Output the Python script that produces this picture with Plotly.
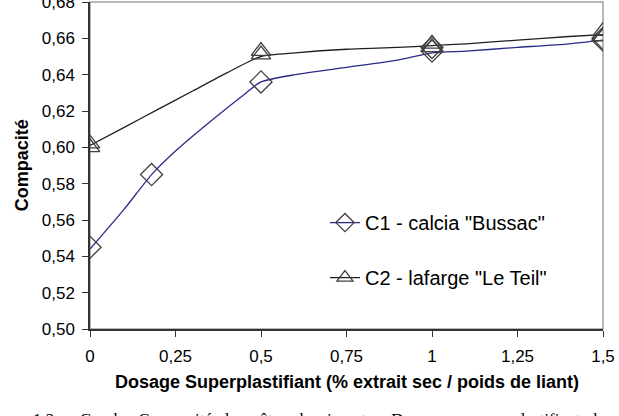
import plotly.graph_objects as go

# Smoothed curves
c1_line_x = [0, 0.1, 0.18, 0.25, 0.35, 0.45, 0.5, 0.6, 0.75, 0.9, 1.0, 1.1, 1.25, 1.4, 1.5]
c1_line_y = [0.544, 0.566, 0.585, 0.598, 0.614, 0.629, 0.636, 0.640, 0.644, 0.648, 0.652, 0.653, 0.655, 0.657, 0.659]
c2_line_x = [0, 0.1, 0.2, 0.3, 0.4, 0.5, 0.6, 0.75, 0.9, 1.0, 1.1, 1.25, 1.4, 1.5]
c2_line_y = [0.601, 0.611, 0.621, 0.631, 0.641, 0.650, 0.652, 0.654, 0.655, 0.656, 0.657, 0.659, 0.661, 0.662]

# Measured points
c1_pts_x = [0, 0.18, 0.5, 1, 1, 1.5, 1.5]
c1_pts_y = [0.545, 0.585, 0.636, 0.653, 0.655, 0.659, 0.660]
c2_pts_x = [0, 0, 0.5, 0.5, 1, 1, 1.5, 1.5]
c2_pts_y = [0.600, 0.602, 0.651, 0.653, 0.655, 0.657, 0.661, 0.664]

names = ['C1 - calcia "Bussac"', 'C2 - lafarge "Le Teil"']
x_ticks = [0, 0.25, 0.5, 0.75, 1, 1.25, 1.5]
x_tick_text = ["0", "0,25", "0,5", "0,75", "1", "1,25", "1,5"]
y_ticks = [0.50, 0.52, 0.54, 0.56, 0.58, 0.60, 0.62, 0.64, 0.66, 0.68]
y_tick_text = ["0,50", "0,52", "0,54", "0,56", "0,58", "0,60", "0,62", "0,64", "0,66", "0,68"]
x_title = "Dosage Superplastifiant (% extrait sec / poids de liant)"
y_title = "Compacité"
caption = "1.2  –  Courbe  Compacité  des  pâtes  de  ciment  –  Dosage  en  superplastifiant  de"

C1_COL = "#2a2a8a"
C2_COL = "#202020"
MK_COL = "#404040"
FONT = "Liberation Sans, Arial, sans-serif"

fig = go.Figure()
fig.add_trace(go.Scatter(x=c1_line_x, y=c1_line_y, mode="lines", line=dict(color=C1_COL, width=1.3, shape="spline", smoothing=0.6),
                         showlegend=False, hoverinfo="skip"))
fig.add_trace(go.Scatter(x=c2_line_x, y=c2_line_y, mode="lines", line=dict(color=C2_COL, width=1.3, shape="spline", smoothing=0.6),
                         showlegend=False, hoverinfo="skip"))
fig.add_trace(go.Scatter(x=c1_pts_x, y=c1_pts_y, mode="markers",
                         marker=dict(symbol="diamond-open", size=17, color=MK_COL, line=dict(width=1.3)),
                         showlegend=False))
fig.add_trace(go.Scatter(x=c2_pts_x, y=c2_pts_y, mode="markers",
                         marker=dict(symbol="triangle-up-open", size=17, color=MK_COL, line=dict(width=1.3)),
                         showlegend=False))
# legend entries
fig.add_trace(go.Scatter(x=[None], y=[None], mode="lines+markers", name=names[0], legendgroup="a",
                         line=dict(color=C1_COL, width=1.3),
                         marker=dict(symbol="diamond-open", size=14, color=MK_COL, line=dict(width=1.3))))
fig.add_trace(go.Scatter(x=[None], y=[None], mode="lines+markers", name=names[1], legendgroup="b",
                         line=dict(color=C2_COL, width=1.3),
                         marker=dict(symbol="triangle-up-open", size=14, color=MK_COL, line=dict(width=1.3))))

fig.update_layout(
    width=619, height=416,
    margin=dict(l=90, r=16, t=2, b=87),
    paper_bgcolor="white", plot_bgcolor="white",
    font=dict(family=FONT, size=16, color="black"),
    showlegend=True,
    legend=dict(x=0.458, y=0.385, xanchor="left", yanchor="top", bgcolor="rgba(0,0,0,0)",
                font=dict(size=20, family=FONT), traceorder="grouped", tracegroupgap=26),
    xaxis=dict(range=[0, 1.5], tickvals=x_ticks, ticktext=x_tick_text, showgrid=False, zeroline=False,
               showline=True, linecolor="#333", linewidth=1.5, ticks="outside", ticklen=6, tickcolor="#333",
               tickfont=dict(size=17), ticklabelstandoff=5, ticklabeloverflow="allow", automargin=False),
    yaxis=dict(range=[0.50, 0.68], tickvals=y_ticks, ticktext=y_tick_text, showgrid=False, zeroline=False,
               showline=True, linecolor="#333", linewidth=1.5, ticks="outside", ticklen=6, tickcolor="#333",
               tickfont=dict(size=17), ticklabelstandoff=4, ticklabeloverflow="allow", automargin=False),
    shapes=[dict(type="rect", xref="paper", yref="paper", x0=0, x1=1, y0=0, y1=1,
                 line=dict(color="#a0a0a0", width=1.5), layer="below")],
    annotations=[
        dict(text="<b>" + x_title + "</b>", xref="paper", yref="paper", x=0.5, y=-0.162,
             xanchor="center", yanchor="middle", showarrow=False, font=dict(size=18, family=FONT)),
        dict(text="<b>" + y_title + "</b>", xref="paper", yref="paper", x=-0.133, y=0.5,
             xanchor="center", yanchor="middle", textangle=-90, showarrow=False, font=dict(size=18, family=FONT)),
        dict(text=caption, xref="paper", yref="paper", x=-0.115, y=-0.241, xanchor="left", yanchor="top",
             showarrow=False, font=dict(family="Liberation Serif, Times New Roman, serif", size=17)),
    ],
)
fig.write_html("out.html")
